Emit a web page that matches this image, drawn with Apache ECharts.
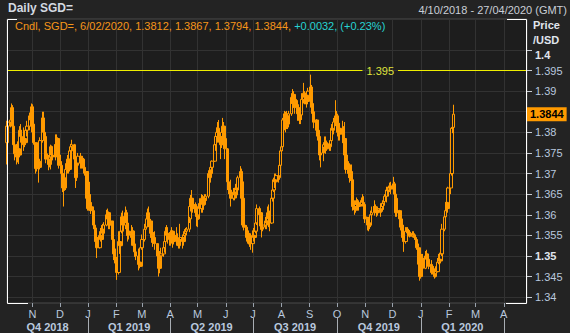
<!DOCTYPE html>
<html><head><meta charset="utf-8">
<script src="https://cdn.jsdelivr.net/npm/echarts@6/dist/echarts.min.js"></script>
<style>html,body{margin:0;padding:0;background:#232323;}#c{width:570px;height:333px;}</style>
</head><body><div id="c"></div>
<script>
// ---- data ----
const firstCandle = [2018, 9, 4];   // Thu 4 Oct 2018 (local y, m0, d)
const lastCandle = [2020, 1, 6];    // Thu 6 Feb 2020
const axisStart = [2018, 9, 4, 0];
const axisEnd = [2020, 3, 26, 12];

const opens = [
1.3775,1.3815,
1.3825,1.3830,1.3860,1.3815,1.3770,
1.3748,1.3740,1.3760,1.3745,1.3805,
1.3790,1.3770,1.3785,1.3775,1.3805,
1.3815,1.3840,1.3830,1.3862,1.3820,
1.3775,1.3712,1.3735,1.3730,1.3715,
1.3780,1.3835,1.3800,1.3790,1.3748,
1.3735,1.3722,1.3740,1.3765,1.3745,
1.3740,1.3770,1.3760,1.3785,1.3745,
1.3720,1.3700,1.3665,1.3690,1.3665,
1.3710,1.3735,1.3710,1.3755,1.3765,
1.3770,1.3735,1.3690,1.3720,1.3725,
1.3742,1.3730,1.3722,1.3735,1.3715,
1.3705,1.3640,1.3615,1.3630,1.3620,
1.3610,1.3575,1.3568,1.3535,1.3545,
1.3520,1.3550,1.3540,1.3565,1.3555,
1.3575,1.3600,1.3590,1.3605,1.3575,
1.3585,1.3540,1.3505,1.3495,1.3490,
1.3460,1.3535,1.3525,1.3560,1.3595,
1.3575,1.3605,1.3580,1.3550,1.3560,
1.3555,1.3545,1.3560,1.3525,1.3510,
1.3500,1.3480,1.3485,1.3475,1.3520,
1.3540,1.3565,1.3570,1.3590,1.3605,
1.3585,1.3555,1.3545,1.3535,1.3545,
1.3530,1.3500,1.3490,1.3470,1.3500,
1.3505,1.3520,1.3535,1.3560,1.3550,
1.3555,1.3540,1.3550,1.3560,1.3535,
1.3550,1.3540,1.3532,1.3525,1.3540,
1.3545,1.3535,1.3550,1.3555,1.3560,
1.3565,1.3590,1.3620,1.3640,1.3615,
1.3625,1.3605,1.3600,1.3590,1.3620,
1.3615,1.3640,1.3625,1.3640,1.3635,
1.3645,1.3700,1.3690,1.3700,1.3715,
1.3730,1.3770,1.3790,1.3800,1.3810,
1.3790,1.3770,1.3800,1.3815,1.3785,
1.3760,1.3680,1.3665,1.3660,1.3650,
1.3640,1.3655,1.3648,1.3665,1.3660,
1.3690,1.3705,1.3680,1.3640,1.3575,
1.3570,1.3545,1.3555,1.3535,1.3540,
1.3530,1.3550,1.3545,1.3560,1.3580,
1.3615,1.3600,1.3605,1.3565,1.3570,
1.3575,1.3585,1.3580,1.3605,1.3590,
1.3580,1.3640,1.3660,1.3685,1.3680,
1.3695,1.3690,1.3720,1.3755,1.3765,
1.3830,1.3845,1.3825,1.3840,1.3820,
1.3845,1.3885,1.3870,1.3892,1.3880,
1.3860,1.3845,1.3850,1.3835,1.3842,
1.3880,1.3895,1.3885,1.3890,1.3875,
1.3900,1.3910,1.3870,1.3850,1.3825,
1.3830,1.3805,1.3795,1.3790,1.3745,
1.3750,1.3760,1.3770,1.3775,1.3760,
1.3772,1.3765,1.3780,1.3810,1.3805,
1.3825,1.3840,1.3822,1.3800,1.3810,
1.3795,1.3810,1.3775,1.3785,1.3745,
1.3710,1.3700,1.3690,1.3705,1.3685,
1.3620,1.3612,1.3625,1.3630,1.3620,
1.3625,1.3635,1.3630,1.3625,1.3595,
1.3590,1.3575,1.3580,1.3575,1.3600,
1.3605,1.3620,1.3615,1.3612,1.3605,
1.3615,1.3608,1.3620,1.3628,1.3632,
1.3645,1.3660,1.3658,1.3665,1.3670,
1.3662,1.3675,1.3650,1.3640,1.3605,
1.3610,1.3590,1.3570,1.3575,1.3545,
1.3535,1.3560,1.3562,1.3558,1.3555,
1.3548,1.3552,1.3550,1.3545,1.3540,
1.3520,1.3480,1.3450,1.3460,1.3495,
1.3470,1.3500,1.3505,1.3492,1.3480,
1.3475,1.3460,1.3465,1.3458,1.3450,
1.3462,1.3485,1.3492,1.3488,1.3505,
1.3565,1.3595,1.3610,1.3630,1.3615,
1.3665,1.3700,1.3810,1.3812
];
const highs = [
1.3828,1.3835,
1.3835,1.3870,1.3866,1.3820,1.3780,
1.3772,1.3778,1.3770,1.3815,1.3820,
1.3812,1.3800,1.3795,1.3815,1.3828,
1.3848,1.3852,1.3870,1.3868,1.3852,
1.3775,1.3760,1.3755,1.3738,1.3788,
1.3850,1.3850,1.3830,1.3792,1.3760,
1.3745,1.3752,1.3770,1.3768,1.3755,
1.3795,1.3788,1.3795,1.3788,1.3768,
1.3730,1.3702,1.3700,1.3700,1.3725,
1.3745,1.3738,1.3762,1.3772,1.3782,
1.3772,1.3740,1.3728,1.3738,1.3750,
1.3750,1.3742,1.3742,1.3738,1.3725,
1.3705,1.3650,1.3645,1.3680,1.3650,
1.3620,1.3595,1.3572,1.3562,1.3555,
1.3560,1.3568,1.3575,1.3578,1.3582,
1.3612,1.3615,1.3610,1.3608,1.3595,
1.3585,1.3545,1.3528,1.3518,1.3498,
1.3560,1.3558,1.3570,1.3605,1.3610,
1.3620,1.3612,1.3590,1.3575,1.3578,
1.3575,1.3570,1.3562,1.3540,1.3530,
1.3518,1.3510,1.3518,1.3530,1.3552,
1.3578,1.3580,1.3602,1.3615,1.3620,
1.3590,1.3570,1.3560,1.3558,1.3560,
1.3530,1.3512,1.3505,1.3512,1.3520,
1.3530,1.3542,1.3570,1.3575,1.3570,
1.3558,1.3562,1.3570,1.3562,1.3560,
1.3570,1.3555,1.3540,1.3545,1.3578,
1.3552,1.3560,1.3565,1.3568,1.3570,
1.3595,1.3630,1.3648,1.3660,1.3635,
1.3630,1.3622,1.3612,1.3628,1.3640,
1.3650,1.3648,1.3645,1.3650,1.3650,
1.3708,1.3708,1.3710,1.3725,1.3732,
1.3780,1.3795,1.3812,1.3825,1.3830,
1.3795,1.3810,1.3835,1.3825,1.3810,
1.3762,1.3680,1.3678,1.3685,1.3665,
1.3665,1.3665,1.3675,1.3675,1.3695,
1.3718,1.3712,1.3685,1.3640,1.3612,
1.3575,1.3565,1.3562,1.3555,1.3555,
1.3562,1.3568,1.3570,1.3592,1.3625,
1.3620,1.3612,1.3605,1.3585,1.3585,
1.3595,1.3595,1.3620,1.3625,1.3610,
1.3660,1.3670,1.3690,1.3700,1.3700,
1.3705,1.3730,1.3762,1.3780,1.3835,
1.3852,1.3850,1.3852,1.3845,1.3852,
1.3895,1.3905,1.3900,1.3900,1.3892,
1.3878,1.3868,1.3860,1.3852,1.3895,
1.3920,1.3900,1.3895,1.3900,1.3908,
1.3940,1.3915,1.3878,1.3852,1.3842,
1.3832,1.3812,1.3810,1.3790,1.3770,
1.3765,1.3775,1.3790,1.3790,1.3780,
1.3780,1.3790,1.3820,1.3822,1.3835,
1.3878,1.3852,1.3845,1.3820,1.3822,
1.3828,1.3815,1.3800,1.3825,1.3750,
1.3730,1.3725,1.3722,1.3722,1.3685,
1.3635,1.3635,1.3642,1.3638,1.3635,
1.3642,1.3650,1.3645,1.3625,1.3610,
1.3595,1.3595,1.3600,1.3610,1.3620,
1.3635,1.3628,1.3625,1.3620,1.3620,
1.3628,1.3628,1.3635,1.3636,1.3650,
1.3668,1.3668,1.3670,1.3678,1.3680,
1.3692,1.3680,1.3660,1.3640,1.3630,
1.3612,1.3592,1.3585,1.3578,1.3570,
1.3570,1.3570,1.3570,1.3566,1.3562,
1.3560,1.3560,1.3555,1.3552,1.3542,
1.3530,1.3490,1.3490,1.3505,1.3505,
1.3512,1.3515,1.3510,1.3505,1.3495,
1.3490,1.3480,1.3475,1.3470,1.3475,
1.3495,1.3505,1.3508,1.3512,1.3578,
1.3602,1.3620,1.3640,1.3645,1.3668,
1.3702,1.3812,1.3830,1.3867
];
const lows = [
1.3722,1.3805,
1.3812,1.3820,1.3805,1.3760,1.3732,
1.3722,1.3727,1.3723,1.3740,1.3775,
1.3755,1.3764,1.3768,1.3770,1.3790,
1.3805,1.3815,1.3800,1.3812,1.3770,
1.3700,1.3705,1.3722,1.3678,1.3710,
1.3775,1.3780,1.3778,1.3740,1.3725,
1.3708,1.3715,1.3710,1.3732,1.3732,
1.3738,1.3732,1.3752,1.3735,1.3712,
1.3685,1.3655,1.3620,1.3658,1.3660,
1.3700,1.3700,1.3705,1.3728,1.3735,
1.3712,1.3665,1.3682,1.3700,1.3718,
1.3712,1.3712,1.3712,1.3700,1.3695,
1.3625,1.3610,1.3610,1.3610,1.3602,
1.3565,1.3558,1.3525,1.3500,1.3495,
1.3518,1.3535,1.3535,1.3545,1.3552,
1.3572,1.3575,1.3585,1.3565,1.3565,
1.3530,1.3490,1.3482,1.3475,1.3442,
1.3455,1.3505,1.3520,1.3555,1.3560,
1.3565,1.3570,1.3540,1.3535,1.3540,
1.3525,1.3530,1.3512,1.3498,1.3490,
1.3470,1.3465,1.3470,1.3475,1.3515,
1.3535,1.3555,1.3565,1.3575,1.3570,
1.3545,1.3532,1.3522,1.3530,1.3515,
1.3485,1.3478,1.3450,1.3458,1.3490,
1.3498,1.3508,1.3532,1.3540,1.3530,
1.3525,1.3525,1.3530,1.3520,1.3528,
1.3525,1.3525,1.3518,1.3518,1.3525,
1.3518,1.3525,1.3535,1.3545,1.3550,
1.3558,1.3580,1.3608,1.3605,1.3605,
1.3595,1.3572,1.3570,1.3588,1.3605,
1.3605,1.3605,1.3612,1.3622,1.3625,
1.3640,1.3675,1.3678,1.3680,1.3695,
1.3728,1.3755,1.3770,1.3775,1.3775,
1.3735,1.3762,1.3780,1.3765,1.3735,
1.3660,1.3650,1.3645,1.3625,1.3620,
1.3635,1.3635,1.3642,1.3640,1.3655,
1.3678,1.3668,1.3630,1.3570,1.3562,
1.3535,1.3530,1.3528,1.3522,1.3515,
1.3508,1.3535,1.3540,1.3555,1.3575,
1.3572,1.3565,1.3545,1.3550,1.3560,
1.3565,1.3565,1.3575,1.3570,1.3560,
1.3578,1.3632,1.3655,1.3665,1.3672,
1.3678,1.3685,1.3700,1.3728,1.3755,
1.3805,1.3800,1.3808,1.3808,1.3812,
1.3840,1.3850,1.3868,1.3860,1.3845,
1.3828,1.3828,1.3820,1.3820,1.3830,
1.3870,1.3868,1.3868,1.3860,1.3868,
1.3860,1.3845,1.3838,1.3812,1.3810,
1.3790,1.3780,1.3780,1.3732,1.3715,
1.3730,1.3740,1.3755,1.3748,1.3755,
1.3755,1.3755,1.3778,1.3790,1.3795,
1.3815,1.3812,1.3790,1.3780,1.3780,
1.3790,1.3765,1.3765,1.3730,1.3700,
1.3690,1.3678,1.3682,1.3678,1.3610,
1.3600,1.3605,1.3610,1.3610,1.3610,
1.3620,1.3620,1.3615,1.3588,1.3580,
1.3562,1.3560,1.3565,1.3570,1.3580,
1.3598,1.3605,1.3605,1.3595,1.3598,
1.3595,1.3605,1.3612,1.3612,1.3622,
1.3630,1.3645,1.3650,1.3655,1.3650,
1.3652,1.3642,1.3630,1.3595,1.3595,
1.3580,1.3562,1.3558,1.3538,1.3510,
1.3530,1.3555,1.3552,1.3550,1.3545,
1.3545,1.3545,1.3540,1.3535,1.3515,
1.3475,1.3440,1.3445,1.3450,1.3455,
1.3468,1.3490,1.3488,1.3475,1.3468,
1.3455,1.3455,1.3452,1.3445,1.3448,
1.3460,1.3480,1.3480,1.3482,1.3500,
1.3560,1.3580,1.3600,1.3605,1.3605,
1.3650,1.3695,1.3798,1.3794
];
const closes = [
1.3815,1.3825,
1.3830,1.3860,1.3815,1.3770,1.3748,
1.3740,1.3760,1.3745,1.3805,1.3790,
1.3770,1.3785,1.3775,1.3805,1.3815,
1.3840,1.3830,1.3862,1.3820,1.3775,
1.3712,1.3735,1.3730,1.3715,1.3780,
1.3835,1.3800,1.3790,1.3748,1.3735,
1.3722,1.3740,1.3765,1.3745,1.3740,
1.3770,1.3760,1.3785,1.3745,1.3720,
1.3700,1.3665,1.3690,1.3665,1.3710,
1.3735,1.3710,1.3755,1.3765,1.3770,
1.3735,1.3690,1.3720,1.3725,1.3742,
1.3730,1.3722,1.3735,1.3715,1.3705,
1.3640,1.3615,1.3630,1.3620,1.3610,
1.3575,1.3568,1.3535,1.3545,1.3520,
1.3550,1.3540,1.3565,1.3555,1.3575,
1.3600,1.3590,1.3605,1.3575,1.3585,
1.3540,1.3505,1.3495,1.3490,1.3460,
1.3535,1.3525,1.3560,1.3595,1.3575,
1.3605,1.3580,1.3550,1.3560,1.3555,
1.3545,1.3560,1.3525,1.3510,1.3500,
1.3480,1.3485,1.3475,1.3520,1.3540,
1.3565,1.3570,1.3590,1.3605,1.3585,
1.3555,1.3545,1.3535,1.3545,1.3530,
1.3500,1.3490,1.3470,1.3500,1.3505,
1.3520,1.3535,1.3560,1.3550,1.3555,
1.3540,1.3550,1.3560,1.3535,1.3550,
1.3540,1.3532,1.3525,1.3540,1.3545,
1.3535,1.3550,1.3555,1.3560,1.3565,
1.3590,1.3620,1.3640,1.3615,1.3625,
1.3605,1.3600,1.3590,1.3620,1.3615,
1.3640,1.3625,1.3640,1.3635,1.3645,
1.3700,1.3690,1.3700,1.3715,1.3730,
1.3770,1.3790,1.3800,1.3810,1.3790,
1.3770,1.3800,1.3815,1.3785,1.3760,
1.3680,1.3665,1.3660,1.3650,1.3640,
1.3655,1.3648,1.3665,1.3660,1.3690,
1.3705,1.3680,1.3640,1.3575,1.3570,
1.3545,1.3555,1.3535,1.3540,1.3530,
1.3550,1.3545,1.3560,1.3580,1.3615,
1.3600,1.3605,1.3565,1.3570,1.3575,
1.3585,1.3580,1.3605,1.3590,1.3580,
1.3640,1.3660,1.3685,1.3680,1.3695,
1.3690,1.3720,1.3755,1.3765,1.3830,
1.3845,1.3825,1.3840,1.3820,1.3845,
1.3885,1.3870,1.3892,1.3880,1.3860,
1.3845,1.3850,1.3835,1.3842,1.3880,
1.3895,1.3885,1.3890,1.3875,1.3900,
1.3910,1.3870,1.3850,1.3825,1.3830,
1.3805,1.3795,1.3790,1.3745,1.3750,
1.3760,1.3770,1.3775,1.3760,1.3772,
1.3765,1.3780,1.3810,1.3805,1.3825,
1.3840,1.3822,1.3800,1.3810,1.3795,
1.3810,1.3775,1.3785,1.3745,1.3710,
1.3700,1.3690,1.3705,1.3685,1.3620,
1.3612,1.3625,1.3630,1.3620,1.3625,
1.3635,1.3630,1.3625,1.3595,1.3590,
1.3575,1.3580,1.3575,1.3600,1.3605,
1.3620,1.3615,1.3612,1.3605,1.3615,
1.3608,1.3620,1.3628,1.3632,1.3645,
1.3660,1.3658,1.3665,1.3670,1.3662,
1.3675,1.3650,1.3640,1.3605,1.3610,
1.3590,1.3570,1.3575,1.3545,1.3535,
1.3560,1.3562,1.3558,1.3555,1.3548,
1.3552,1.3550,1.3545,1.3540,1.3520,
1.3480,1.3450,1.3460,1.3495,1.3470,
1.3500,1.3505,1.3492,1.3480,1.3475,
1.3460,1.3465,1.3458,1.3450,1.3462,
1.3485,1.3492,1.3488,1.3505,1.3565,
1.3595,1.3610,1.3630,1.3615,1.3665,
1.3700,1.3810,1.3812,1.3844
];

const yTickValues = [1.34,1.345,1.35,1.355,1.36,1.365,1.37,1.375,1.38,1.385,1.39,1.395,1.4];
const yLabelValues = [1.34,1.345,1.35,1.355,1.36,1.365,1.37,1.375,1.38,1.39,1.395,1.4];
const yBoldLabels = [1.35, 1.4];
const monthLetters = ['J','F','M','A','M','J','J','A','S','O','N','D'];
const refLevel = 1.395;
const refGap = [[2019, 9, 29], [2019, 11, 7]];
const headerTitle = 'Daily SGD=';
const headerRange = '4/10/2018 - 27/04/2020 (GMT)';
const instrument = 'SGD=';

// ---- build ----
const mk = a => new Date(a[0], a[1], a[2], a[3] || 0).getTime();
const xMin = mk(axisStart), xMax = mk(axisEnd);
const dates = [];
for (let d = new Date(firstCandle[0], firstCandle[1], firstCandle[2]); d.getTime() <= mk(lastCandle); d.setDate(d.getDate() + 1)) {
  const wd = d.getDay();
  if (wd !== 0 && wd !== 6) dates.push(d.getTime());
}
const candles = dates.map((t, i) => [t, opens[i], closes[i], lows[i], highs[i]]);

const monthStarts = [];
for (let d = new Date(axisStart[0], axisStart[1] + 1, 1); d.getTime() <= xMax; d.setMonth(d.getMonth() + 1)) monthStarts.push(d.getTime());
const quarterStarts = monthStarts.filter(t => new Date(t).getMonth() % 3 === 0);
const quarterBounds = [xMin].concat(quarterStarts);
const quarterMids = [];
for (let i = 0; i + 1 < quarterBounds.length; i++) quarterMids.push((quarterBounds[i] + quarterBounds[i + 1]) / 2);

const n = closes.length;
const lastDate = new Date(dates[n - 1]);
const chg = closes[n - 1] - closes[n - 2];
const pct = chg / closes[n - 2] * 100;
const sign = v => (v >= 0 ? '+' : '');
const legendMain = 'Cndl, ' + instrument + ', ' + lastDate.getDate() + '/' + String(lastDate.getMonth() + 1).padStart(2, '0') + '/' + lastDate.getFullYear() + ', ' +
  [opens[n - 1], highs[n - 1], lows[n - 1], closes[n - 1]].map(v => v.toFixed(4)).join(', ') + ', ';
const legendChg = sign(chg) + chg.toFixed(4) + ', (' + sign(pct) + pct.toFixed(2) + '%)';

const FONT = '"Liberation Sans", Arial, sans-serif';
const ORANGE = '#ff9a00';
const LABEL = '#b9c8de';
const BOLDLABEL = '#e0e6ee';
const near = (a, b) => Math.abs(a - b) < 1e-9;

const chart = echarts.init(document.getElementById('c'), null, { renderer: 'svg' });
chart.setOption({
  animation: false,
  backgroundColor: '#232323',
  textStyle: { fontFamily: FONT },
  grid: { left: 7, right: 43, top: 19, bottom: 30, show: true, backgroundColor: '#1d1d1d', borderColor: '#4a4a4a', borderWidth: 1, containLabel: false, outerBoundsMode: 'none' },
  xAxis: [{
    type: 'value', min: xMin, max: xMax, position: 'bottom',
    axisLine: { show: false },
    axisTick: { show: true, customValues: monthStarts, length: 4, lineStyle: { color: '#9aa3ad' } },
    axisLabel: { customValues: monthStarts, formatter: v => monthLetters[new Date(v).getMonth()], color: LABEL, fontSize: 11, margin: 5, fontFamily: FONT },
    splitLine: { show: true, lineStyle: { color: '#323232', width: 1 } }
  }, {
    type: 'value', min: xMin, max: xMax, position: 'bottom', offset: 15,
    axisLine: { show: false },
    axisTick: { show: true, customValues: quarterStarts, length: 15, lineStyle: { color: '#a8adb3' } },
    axisLabel: { customValues: quarterMids, formatter: v => { const d = new Date(v); return 'Q' + (Math.floor(d.getMonth() / 3) + 1) + ' ' + d.getFullYear(); },
      color: LABEL, fontSize: 11, fontWeight: 'bold', margin: 3, fontFamily: FONT },
    splitLine: { show: false }
  }],
  yAxis: {
    type: 'value', position: 'right', min: 1.33859, max: 1.4075,
    axisLine: { show: false },
    axisTick: { show: true, customValues: yTickValues, length: 5, lineStyle: { color: '#c8ccd2' } },
    axisLabel: {
      customValues: yLabelValues, margin: 8, color: LABEL, fontSize: 11, fontFamily: FONT,
      formatter: v => {
        const s = String(+(+v).toFixed(4));
        if (near(v, 1.4)) return '{t|' + s + '}';
        if (yBoldLabels.some(b => near(b, v))) return '{b|' + s + '}';
        return s;
      },
      rich: {
        b: { fontWeight: 'bold', color: BOLDLABEL, fontSize: 11, fontFamily: FONT },
        t: { fontWeight: 'bold', color: BOLDLABEL, fontSize: 11, fontFamily: FONT, padding: [11, 0, 0, 0] }
      }
    },
    splitLine: { show: true, lineStyle: { color: '#323232', width: 1 } }
  },
  series: [{
    type: 'candlestick',
    xAxisIndex: 0,
    data: candles,
    barWidth: 3,
    itemStyle: { color: 'rgba(0,0,0,0)', color0: ORANGE, borderColor: ORANGE, borderColor0: ORANGE, borderWidth: 1 },
    markLine: {
      silent: true, symbol: ['none', 'none'], animation: false, precision: 4,
      lineStyle: { color: '#eeee00', width: 1, type: 'solid' },
      label: { show: false },
      data: [
        [{ coord: [xMin, refLevel], label: { show: false } }, { coord: [mk(refGap[0]), refLevel] }],
        [{ coord: [mk(refGap[1]), refLevel], label: { show: true, position: 'start', distance: 4, formatter: String(refLevel), color: '#dfe23c', fontSize: 11, fontFamily: FONT } }, { coord: [xMax, refLevel] }],
        { yAxis: closes[n - 1], lineStyle: { color: 'rgba(0,0,0,0)' },
          label: { show: true, position: 'end', distance: 0, formatter: closes[n - 1].toFixed(4), backgroundColor: ORANGE, color: '#000', fontWeight: 'bold', fontSize: 11, fontFamily: FONT, padding: [2, 3, 1, 3] } }
      ]
    }
  }],
  graphic: [
    { type: 'text', left: 8, top: 2, z: 100, silent: true, style: { text: headerTitle, fill: '#d3d9e1', fontSize: 12, fontWeight: 'bold', fontFamily: FONT } },
    { type: 'text', right: 3, top: 4, z: 100, silent: true, style: { text: headerRange, fill: '#c9ced6', fontSize: 11, fontFamily: FONT } },
    { type: 'text', left: 15, top: 20, z: 100, silent: true, style: { text: '{o|' + legendMain + '}{c|' + legendChg + '}', fontSize: 11, fontFamily: FONT,
      rich: { o: { fill: '#f5961a', fontSize: 11, fontFamily: FONT }, c: { fill: '#27d3d3', fontSize: 11, fontFamily: FONT } } } },
    { type: 'text', left: 533, top: 19, z: 100, silent: true, style: { text: 'Price', fill: BOLDLABEL, fontSize: 11, fontWeight: 'bold', fontFamily: FONT } },
    { type: 'text', left: 533, top: 34, z: 100, silent: true, style: { text: '/USD', fill: BOLDLABEL, fontSize: 11, fontWeight: 'bold', fontFamily: FONT } },
    { type: 'polyline', z: 100, silent: true, shape: { points: [[17, 19.5], [7.5, 19.5], [7.5, 303.5], [28, 303.5]] }, style: { stroke: '#ffffff', lineWidth: 1, fill: null } },
    { type: 'polyline', z: 100, silent: true, shape: { points: [[507, 19.5], [526.5, 19.5], [526.5, 303.5], [506, 303.5]] }, style: { stroke: '#ffffff', lineWidth: 1, fill: null } }
  ]
});
</script>
</body></html>
